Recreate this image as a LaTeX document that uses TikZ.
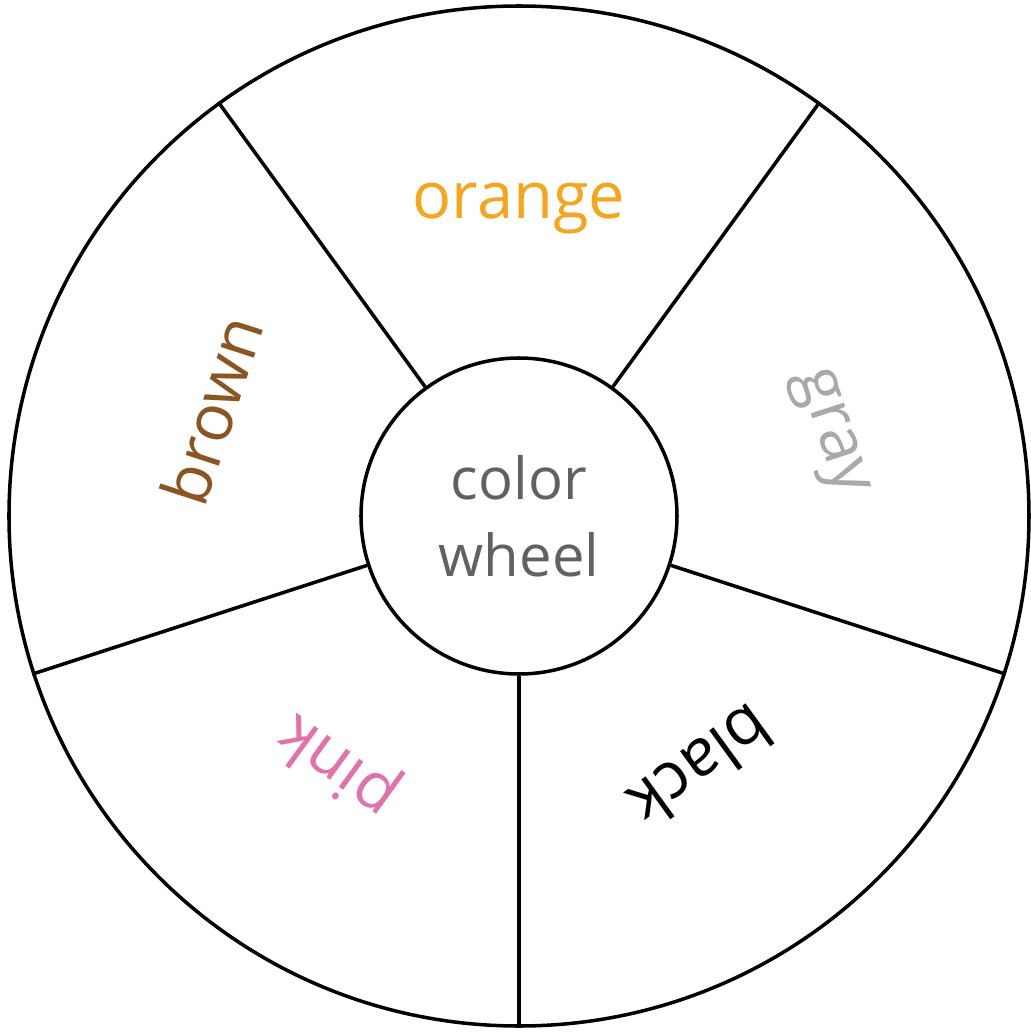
\documentclass[tikz,border=0pt]{standalone}
\usepackage{fontspec}
\setmainfont{Open Sans}
\definecolor{wheelorange}{HTML}{F4A521}
\definecolor{wheelgray}{HTML}{A7A9AC}
\definecolor{wheelpink}{HTML}{E073AB}
\definecolor{wheelbrown}{HTML}{8B5522}
\definecolor{hubtext}{HTML}{636062}
\begin{document}
\begin{tikzpicture}[line width=1pt,
  lbl/.style={font=\fontsize{18.5}{22}\selectfont,inner sep=0pt}]
\useasboundingbox (-5.19,-5.17) rectangle (5.11,5.16);
\node[draw,circle,minimum size=10.2cm,inner sep=0pt] (rim) at (0,0) {};
\node[draw,circle,minimum size=3.16cm,inner sep=0pt,align=center,text=hubtext,
  font=\fontsize{16.5}{22}\selectfont] (hub) at (0,0) {color\\wheel};
\foreach \a in {-90,-18,54,126,198}
  \draw (hub.\a) -- (rim.\a);
\node[lbl,text=wheelorange] (orange) at (90:3.07) {orange};
\node[lbl,text=wheelgray,rotate=-72] (gray) at (15:3.2) {gray};
\node[lbl,text=black,rotate=-144] (black) at (-54:3.1) {black};
\node[lbl,text=wheelpink,rotate=144] (pink) at (-126:3.07) {pink};
\node[lbl,text=wheelbrown,rotate=72] (brown) at (161:3.25) {brown};
\end{tikzpicture}
\end{document}
